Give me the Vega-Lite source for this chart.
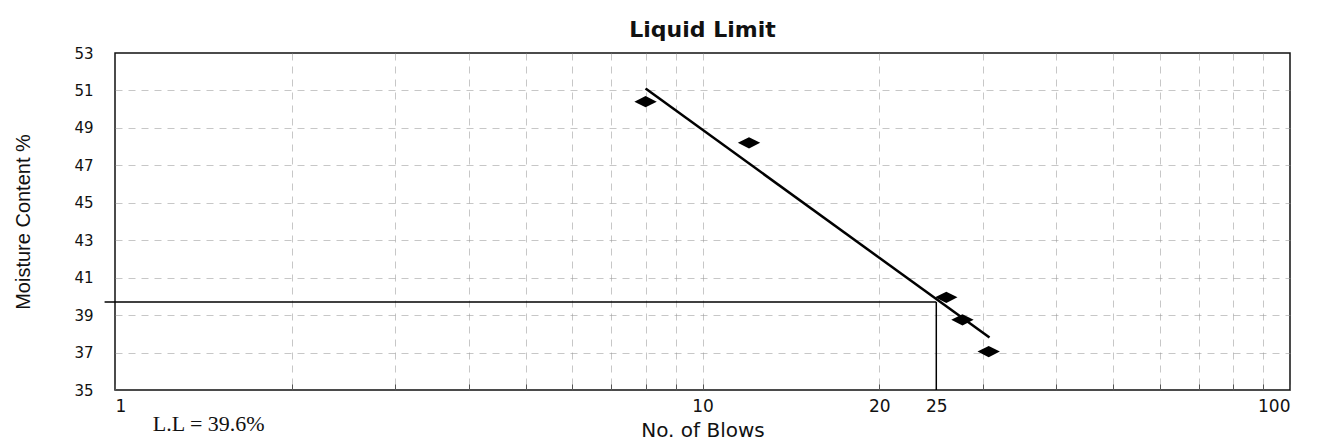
{
  "$schema": "https://vega.github.io/schema/vega-lite/v6.json",
  "width": 1175,
  "height": 337,
  "autosize": {"type": "none"},
  "padding": {"left": 115, "top": 53, "right": 46, "bottom": 57},
  "background": "white",
  "title": {"text": "Liquid Limit", "font": "DejaVu Sans", "fontSize": 22, "fontWeight": "bold", "color": "#111", "offset": 4, "anchor": "middle"},
  "config": {
    "view": {"stroke": "#111", "strokeWidth": 1.5},
    "axis": {"domain": false, "labelOverlap": false, "labelSeparation": 0},
    "axisY": {"labelOverlap": false}
  },
  "datasets": {
    "points": [
      {"blows": 8, "mc": 50.4},
      {"blows": 12, "mc": 48.2},
      {"blows": 26, "mc": 39.95},
      {"blows": 27.7, "mc": 38.75},
      {"blows": 30.7, "mc": 37.05}
    ],
    "trend": [
      {"blows": 8, "mc": 51.1},
      {"blows": 30.8, "mc": 37.8}
    ],
    "ll": [{"x0": 0.96, "x1": 25, "y0": 35, "y1": 39.7, "label": "L.L = 39.6%", "lx": 1.16}]
  },
  "layer": [
    {
      "data": {"name": "points"},
      "mark": {"type": "point", "shape": "M-1,0L0,-0.5L1,0L0,0.5Z", "filled": true, "color": "#000", "opacity": 1, "size": 500},
      "encoding": {
        "x": {
          "field": "blows", "type": "quantitative",
          "scale": {"type": "log", "domain": [1, 100], "nice": false},
          "axis": {
            "title": "No. of Blows", "titleFont": "DejaVu Sans", "titleFontSize": 20, "titleFontWeight": "normal", "titleColor": "#111", "titlePadding": 6,
            "values": [1, 2, 3, 4, 5, 6, 7, 8, 9, 10, 20, 25, 30, 40, 50, 60, 70, 80, 90, 100],
            "labelExpr": "(datum.value==1||datum.value==10||datum.value==20||datum.value==25||datum.value==100) ? datum.label : ''",
            "labelFont": "DejaVu Sans", "labelFontSize": 17, "labelColor": "#111", "labelPadding": 14,
            "ticks": true, "tickSize": -6, "tickColor": "#555",
            "grid": true, "gridColor": "#999", "gridDash": [7, 6],
            "gridOpacity": {"condition": {"test": "datum.value==25 || datum.value==1 || datum.value==100", "value": 0}, "value": 0.55},
            "labelOverlap": false
          }
        },
        "y": {
          "field": "mc", "type": "quantitative",
          "scale": {"domain": [35, 53], "nice": false, "zero": false},
          "axis": {
            "title": "Moisture Content %", "titleFont": "Liberation Sans", "titleFontSize": 20, "titleFontWeight": "normal", "titleColor": "#111", "titlePadding": 40,
            "values": [35, 37, 39, 41, 43, 45, 47, 49, 51, 53],
            "tickCount": 10,
            "labelFont": "DejaVu Sans", "labelFontSize": 15, "labelColor": "#111", "labelPadding": 22,
            "labelOverlap": false,
            "ticks": false,
            "grid": true, "gridColor": "#999", "gridDash": [7, 6],
            "gridOpacity": {"condition": {"test": "datum.value==35 || datum.value==53", "value": 0}, "value": 0.55}
          }
        }
      }
    },
    {
      "data": {"name": "trend"},
      "mark": {"type": "line", "color": "#000", "strokeWidth": 2.5},
      "encoding": {
        "x": {"field": "blows", "type": "quantitative"},
        "y": {"field": "mc", "type": "quantitative"}
      }
    },
    {
      "data": {"name": "ll"},
      "mark": {"type": "rule", "color": "#000", "strokeWidth": 1.5, "clip": false},
      "encoding": {
        "x": {"field": "x0", "type": "quantitative"},
        "x2": {"field": "x1"},
        "y": {"field": "y1", "type": "quantitative"}
      }
    },
    {
      "data": {"name": "ll"},
      "mark": {"type": "rule", "color": "#000", "strokeWidth": 1.5},
      "encoding": {
        "x": {"field": "x1", "type": "quantitative"},
        "y": {"field": "y0", "type": "quantitative"},
        "y2": {"field": "y1"}
      }
    },
    {
      "data": {"name": "ll"},
      "mark": {"type": "text", "font": "Liberation Serif", "fontSize": 22, "color": "#111", "align": "left", "baseline": "middle", "dy": 34, "clip": false},
      "encoding": {
        "x": {"field": "lx", "type": "quantitative"},
        "y": {"field": "y0", "type": "quantitative"},
        "text": {"field": "label"}
      }
    }
  ]
}
